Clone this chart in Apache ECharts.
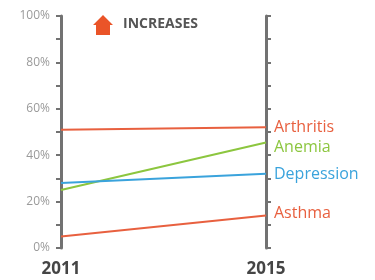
<!DOCTYPE html>
<html><head><meta charset="utf-8">
<script src="https://cdn.jsdelivr.net/npm/echarts@6/dist/echarts.min.js"></script>
<style>html,body{margin:0;padding:0;background:#fff}#c{width:375px;height:280px}</style>
</head><body><div id="c"></div>
<script>
const categories = ['2011', '2015'];
const seriesNames = ['Arthritis', 'Anemia', 'Depression', 'Asthma'];
const arthritis = [51, 52];
const anemia = [25, 45.5];
const depression = [28, 32];
const asthma = [5, 14];
const yTickLabels = ['0%', '20%', '40%', '60%', '80%', '100%'];

const colors = ['#e8603f', '#8cc63f', '#3aa3dc', '#e8603f'];
const labelOffsets = [[0, 0], [0, 5], [0, 1], [0, -2]];
const values = [arthritis, anemia, depression, asthma];

const chart = echarts.init(document.getElementById('c'));
const axisStyle = { lineStyle: { color: '#727272', width: 3 } };
chart.setOption({
  animation: false,
  grid: { left: 61, right: 109, top: 16, bottom: 32 },
  xAxis: {
    type: 'category', data: categories, boundaryGap: false,
    axisLine: { show: false }, axisTick: { show: false },
    axisLabel: { color: '#454545', fontSize: 17, fontWeight: 'bold', fontFamily: 'Open Sans', margin: 13,
      formatter: v => v }
  },
  yAxis: [
    { type: 'value', min: 0, max: 100, interval: 10, position: 'left',
      axisLine: { show: true, ...axisStyle },
      axisTick: { show: true, length: 5, lineStyle: { color: '#727272', width: 2 } },
      splitLine: { show: false },
      axisLabel: { color: '#9a9a9a', fontSize: 12, fontFamily: 'Open Sans', margin: 11,
        formatter: v => (v % 20 === 0 ? yTickLabels[v / 20] : '') } },
    { type: 'value', min: 0, max: 100, interval: 10, position: 'right',
      axisLine: { show: true, ...axisStyle },
      axisTick: { show: true, length: 5, lineStyle: { color: '#727272', width: 2 } },
      splitLine: { show: false }, axisLabel: { show: false } }
  ],
  graphic: [
    { type: 'polygon', shape: { points: [[103, 15], [113, 25], [110, 25], [110, 35], [96, 35], [96, 25], [93, 25]] },
      style: { fill: '#ea5428' } },
    { type: 'text', left: 123, top: 17,
      style: { text: 'INCREASES', fill: '#555', font: 'bold 14px "Open Sans"' } }
  ],
  series: seriesNames.map((name, i) => ({
    name, type: 'line', yAxisIndex: 0, symbol: 'none',
    lineStyle: { color: colors[i], width: 2 },
    z: 1,
    data: values[i],
    endLabel: { show: true, formatter: name, color: colors[i], fontSize: 16,
      fontFamily: 'Open Sans', distance: 8, offset: labelOffsets[i] }
  }))
});
</script></body></html>
